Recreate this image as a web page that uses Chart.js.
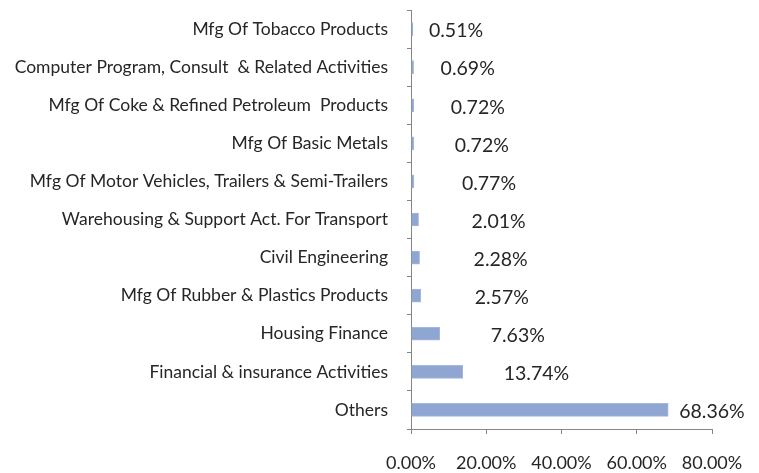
<!DOCTYPE html>
<html lang="en">
<head>
    <meta charset="UTF-8">
    <title>Sector Exposure</title>
    <script src="https://cdn.jsdelivr.net/npm/chart.js"></script>
    <style>
        html, body { margin: 0; padding: 0; background: #fff; }
        #wrap { width: 759px; height: 473px; }
    </style>
</head>
<body>
    <div id="wrap"><canvas id="stats"></canvas></div>
    <script>
        const sectors = [
            "Mfg Of Tobacco Products",
            "Computer Program, Consult  & Related Activities",
            "Mfg Of Coke & Refined Petroleum  Products",
            "Mfg Of Basic Metals",
            "Mfg Of Motor Vehicles, Trailers & Semi-Trailers",
            "Warehousing & Support Act. For Transport",
            "Civil Engineering",
            "Mfg Of Rubber & Plastics Products",
            "Housing Finance",
            "Financial & insurance Activities",
            "Others"
        ];
        const shares = [0.51, 0.69, 0.72, 0.72, 0.77, 2.01, 2.28, 2.57, 7.63, 13.74, 68.36];
        const xTicks = [0, 20, 40, 60, 80];

        const FONT = "Lato, 'Liberation Sans', sans-serif";

        const ctx = document.getElementById("stats").getContext("2d");
        const chart = new Chart(ctx, {
            type: "bar",
            data: {
                labels: sectors,
                datasets: [{
                    data: shares,
                    backgroundColor: "#8fa6d3",
                    borderColor: "#a3b6dc",
                    borderWidth: 1,
                    barThickness: 13
                }]
            },
            options: {
                indexAxis: "y",
                responsive: true,
                maintainAspectRatio: false,
                animation: false,
                layout: { padding: { top: 10, right: 47, left: 0, bottom: 0 } },
                plugins: {
                    legend: { display: false },
                    tooltip: { enabled: false },
                    valueLabels: {
                        // offsets past the bar end, as the labels sit in the original
                        offsets: [16, 27, 37, 41, 48, 53, 54, 54, 51, 41, 11]
                    }
                },
                scales: {
                    x: {
                        min: 0,
                        max: 80,
                        afterBuildTicks: scale => { scale.ticks = xTicks.map(v => ({ value: v })); },
                        afterFit: scale => { scale.height = 44; scale.paddingLeft = 0; scale.paddingRight = 0; },
                        grid: { drawOnChartArea: false, drawTicks: true, tickLength: 5, color: "#868686" },
                        border: { color: "#868686", width: 1 },
                        ticks: {
                            padding: 18,
                            color: "#262626",
                            font: { family: FONT, size: 18 },
                            maxRotation: 0,
                            callback: v => v.toFixed(2) + "%"
                        }
                    },
                    y: {
                        afterFit: scale => { scale.width = 411; scale.paddingTop = 0; scale.paddingBottom = 0; },
                        grid: { drawOnChartArea: false, drawTicks: true, tickLength: 4, offset: true, color: "#868686" },
                        border: { color: "#868686", width: 1 },
                        ticks: {
                            padding: 19,
                            color: "#262626",
                            font: { family: FONT, size: 17.5 },
                            autoSkip: false
                        }
                    }
                }
            },
            plugins: [{
                id: "valueLabels",
                afterDatasetsDraw: (chart, args, options) => {
                    const { ctx } = chart;
                    const meta = chart.getDatasetMeta(0);
                    ctx.save();
                    ctx.fillStyle = "#262626";
                    ctx.font = "19.5px " + FONT;
                    ctx.textAlign = "left";
                    ctx.textBaseline = "middle";
                    meta.data.forEach((bar, i) => {
                        const off = options.offsets[i] || 8;
                        ctx.fillText(shares[i].toFixed(2) + "%", bar.x + off, bar.y + 2);
                    });
                    ctx.restore();
                }
            }]
        });
    </script>
</body>
</html>
